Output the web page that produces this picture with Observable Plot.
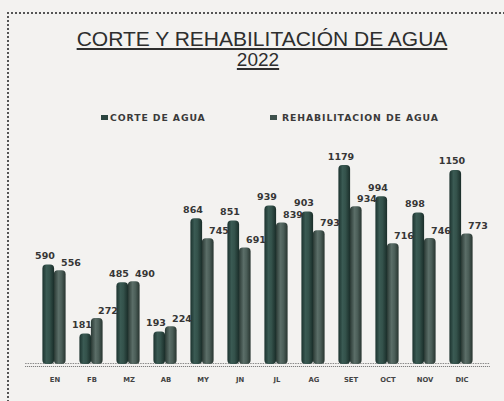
<!DOCTYPE html>
<html><head><meta charset="utf-8">
<script src="https://cdn.jsdelivr.net/npm/d3@7"></script>
<script src="https://cdn.jsdelivr.net/npm/@observablehq/plot@0.6"></script>
<style>
html,body{margin:0;padding:0;background:#f3f2f0;}
#page{position:relative;width:504px;height:401px;overflow:hidden;background:#f3f2f0;font-family:"DejaVu Sans",sans-serif;}
#frame{position:absolute;left:7px;top:12px;width:520px;height:420px;border-left:2px dotted #555;border-top:2px dotted #555;}
.title{position:absolute;left:0;text-align:center;font-family:"Liberation Sans",Arial,sans-serif;color:#2e2e2e;text-decoration:underline;text-decoration-thickness:1.5px;text-underline-offset:2px;white-space:nowrap;}
.sw{position:absolute;width:7px;height:5px;}
.lg{position:absolute;font-family:"DejaVu Sans",sans-serif;font-weight:bold;font-size:9.3px;line-height:10px;letter-spacing:0.9px;color:#3a3a3a;white-space:nowrap;}
#chart{position:absolute;left:0;top:130px;}
</style></head>
<body>
<div id="page">
  <div id="frame"></div>
  <div class="title" style="top:29px;width:524px;font-size:21px;line-height:20px;">CORTE Y REHABILITACIÓN DE AGUA</div>
  <div class="title" style="top:50px;width:516px;font-size:19px;line-height:20px;">2022</div>
  <div class="sw" style="left:101px;top:115px;background:#2b4540;"></div>
  <div class="lg" style="left:110px;top:113px;">CORTE DE AGUA</div>
  <div class="sw" style="left:270px;top:115px;background:#3e514c;"></div>
  <div class="lg" style="left:282px;top:113px;">REHABILITACION DE AGUA</div>
  <div id="chart"></div>
</div>
<script>
const months = ["EN","FB","MZ","AB","MY","JN","JL","AG","SET","OCT","NOV","DIC"];
const corte = [590,181,485,193,864,851,939,903,1179,994,898,1150];
const rehab = [556,272,490,224,745,691,839,793,934,716,746,773];

const rows = months.map((m,i)=>({month:m, corte:corte[i], rehab:rehab[i]}));

const lab = {fontFamily:"DejaVu Sans", fontWeight:"bold", fontSize:9.5, fill:"#363636"};

const svg = Plot.plot({
  width:504, height:271,
  marginLeft:31.14, marginRight:20.1, marginTop:14.6, marginBottom:37,
  style:{background:"transparent", overflow:"visible"},
  x:{domain:months, padding:0, axis:null},
  y:{domain:[0,1300], axis:null},
  marks:[
    Plot.ruleY([0], {stroke:"#8a8a8a", strokeWidth:1, strokeDasharray:"1.5,1", insetLeft:-6, insetRight:-6, dy:-1}),
    Plot.ruleY([0], {stroke:"#6a6a6a", strokeWidth:1.2, strokeDasharray:"1,1", insetLeft:-6, insetRight:-6, dy:2}),
    Plot.barY(rows, {x:"month", y:"rehab", insetLeft:17.9, insetRight:7.4, fill:"url(#gRehab)", rx:4}),
    Plot.barY(rows, {x:"month", y:"corte", insetLeft:6.4, insetRight:18.9, fill:"url(#gCorte)", rx:4}),
    Plot.text(rows, {x:"month", y:"corte", text:d=>String(d.corte), dx:-10, dy:-9, ...lab}),
    Plot.text(rows, {x:"month", y:"rehab", text:d=>String(d.rehab), dx:16, dy:-8, ...lab}),
    Plot.text(months, {x:d=>d, y:()=>0, text:d=>d, dy:15, fontFamily:"DejaVu Sans", fontWeight:"bold", fontSize:6.8, fill:"#444"})
  ]
});

const defs = d3.select(svg).insert("defs", ":first-child");
const g1 = defs.append("linearGradient").attr("id","gCorte").attr("x1","0").attr("x2","1").attr("y1","0").attr("y2","0");
[[0,"#1b322e"],[0.35,"#3a5a53"],[0.6,"#34524b"],[1,"#1a2d29"]].forEach(([o,c])=>g1.append("stop").attr("offset",o).attr("stop-color",c));
const g2 = defs.append("linearGradient").attr("id","gRehab").attr("x1","0").attr("x2","1").attr("y1","0").attr("y2","0");
[[0,"#2a3934"],[0.4,"#5b6e68"],[0.65,"#4b5e58"],[1,"#27342f"]].forEach(([o,c])=>g2.append("stop").attr("offset",o).attr("stop-color",c));

document.getElementById("chart").appendChild(svg);
</script>
</body></html>
